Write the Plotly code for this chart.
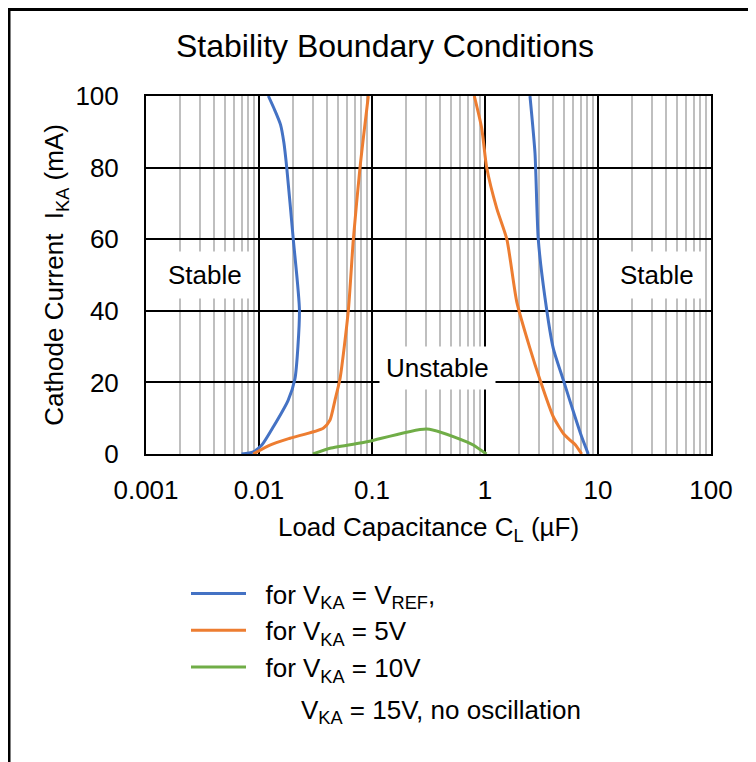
import math
import plotly.graph_objects as go

# ---- data ----
blue_left_x = [0.0121, 0.0138, 0.0155, 0.0166, 0.0176, 0.0201, 0.0228, 0.0208, 0.0181, 0.0134, 0.0106, 0.0089, 0.0070]
blue_left_y = [100, 96, 92, 87, 80, 60, 40, 21, 15, 7.6, 2.5, 0.6, 0]
blue_right_x = [2.50, 2.77, 2.96, 3.40, 4.02, 4.93, 6.26, 7.17, 8.2]
blue_right_y = [100, 84, 60, 43.5, 29.5, 20.7, 10.4, 4.8, 0]

orange_left_x = [0.0928, 0.0783, 0.0684, 0.0617, 0.0521, 0.047, 0.0425, 0.037, 0.0188, 0.0125, 0.0089]
orange_left_y = [100, 80, 60, 40, 21, 15, 9.5, 7.2, 4.4, 2.5, 0]
orange_right_x = [0.804, 0.935, 1.035, 1.27, 1.56, 1.91, 2.50, 3.07, 4.02, 5.0, 5.65, 6.3, 7.17]
orange_right_y = [100, 91, 80, 68.6, 60, 42.5, 29.5, 20.7, 10.4, 5.5, 3.9, 2.6, 0]

green_x = [0.030, 0.0425, 0.0838, 0.0994, 0.305, 0.689, 0.787, 1.03]
green_y = [0, 1.6, 3.2, 3.7, 7.0, 3.4, 2.5, 0]

series_names = ["\u00a0\u00a0for V<sub>KA</sub> = V<sub>REF</sub>,",
                "\u00a0\u00a0for V<sub>KA</sub> = 5V",
                "\u00a0\u00a0for V<sub>KA</sub> = 10V"]
note_text = "V<sub>KA</sub> = 15V, no oscillation"

x_ticks = [0.001, 0.01, 0.1, 1, 10, 100]
x_tick_labels = ["0.001", "0.01", "0.1", "1", "10", "100"]
y_ticks = [0, 20, 40, 60, 80, 100]

BLUE, ORANGE, GREEN = "#4472C4", "#ED7D31", "#70AD47"
FONT = "Liberation Sans, Arial, sans-serif"
FS = 26

fig = go.Figure()
fig.add_trace(go.Scatter(x=blue_left_x + [None] + blue_right_x,
                         y=blue_left_y + [None] + blue_right_y,
                         mode="lines", name=series_names[0], legendgroup="a",
                         line=dict(color=BLUE, width=3, shape="spline", smoothing=0.6)))
fig.add_trace(go.Scatter(x=orange_left_x + [None] + orange_right_x,
                         y=orange_left_y + [None] + orange_right_y,
                         mode="lines", name=series_names[1], legendgroup="b",
                         line=dict(color=ORANGE, width=3, shape="spline", smoothing=0.6)))
fig.add_trace(go.Scatter(x=green_x, y=green_y, mode="lines", name=series_names[2],
                         legendgroup="c",
                         line=dict(color=GREEN, width=3, shape="spline", smoothing=0.6)))

OFF = 8  # page body margin
W, H = 748, 754
L, T = 146 - OFF, 96 - OFF
R = W - (711 - OFF)
B = H - (454 - OFF)
pw, ph = W - L - R, H - T - B


def px_x(p):
    return (p - OFF - L) / pw


def px_y(p):
    return (H - B - (p - OFF)) / ph


fig.update_layout(
    width=W, height=H,
    margin=dict(l=L, r=R, t=T, b=B),
    paper_bgcolor="white", plot_bgcolor="white",
    font=dict(family=FONT, size=FS, color="black"),
    title=dict(text="Stability Boundary Conditions", x=(385 - OFF) / W,
               xanchor="center", y=1 - (46 - OFF) / H, yanchor="middle",
               xref="container", yref="container",
               font=dict(size=32, family=FONT, color="black")),
    showlegend=True,
    legend=dict(x=px_x(186), y=px_y(570), xanchor="left", yanchor="top",
                font=dict(size=FS, family=FONT), tracegroupgap=2,
                itemwidth=55, traceorder="normal",
                bgcolor="rgba(0,0,0,0)"),
    xaxis=dict(type="log", range=[-3, 2], tickvals=x_ticks, ticktext=x_tick_labels,
               showgrid=True, gridcolor="black", gridwidth=2,
               minor=dict(dtick="D1", showgrid=True, gridcolor="#BFBFBF", gridwidth=1.5, ticks=""),
               showline=True, linecolor="black", linewidth=2, mirror=True,
               ticks="", ticklabelstandoff=12, zeroline=False,
               tickfont=dict(size=FS, family=FONT),
               title=dict(text="Load Capacitance C<sub>L</sub> (µF)", standoff=14,
                          font=dict(size=FS, family=FONT))),
    yaxis=dict(range=[0, 100], tickvals=y_ticks,
               showgrid=True, gridcolor="black", gridwidth=2,
               showline=True, linecolor="black", linewidth=2, mirror=True,
               ticks="", ticklabelstandoff=20, zeroline=False,
               tickfont=dict(size=FS, family=FONT),
               title=dict(text="Cathode Current  I<sub>KA</sub> (mA)", standoff=4,
                          font=dict(size=FS, family=FONT))),
)

# region labels
for text, xv, yv, pad in [("Stable", 0.00333, 50, 8), ("Stable", 33.3, 50, 8),
                          ("Unstable", 0.376, 24, 6)]:
    fig.add_annotation(x=math.log10(xv), y=yv, xref="x", yref="y", text=text,
                       showarrow=False, bgcolor="white", borderpad=pad,
                       font=dict(size=FS, family=FONT, color="black"))

fig.add_annotation(x=px_x(299), y=px_y(711), xref="paper", yref="paper",
                   xanchor="left", yanchor="middle", text=note_text, showarrow=False,
                   font=dict(size=FS, family=FONT, color="black"))

# outer chart frame (left and top edges visible)
fig.add_shape(type="rect", xref="paper", yref="paper",
              x0=px_x(9), x1=px_x(900), y0=px_y(900), y1=px_y(9.5),
              line=dict(color="black", width=3), fillcolor="rgba(0,0,0,0)", layer="above")

fig.write_html("out.html")
